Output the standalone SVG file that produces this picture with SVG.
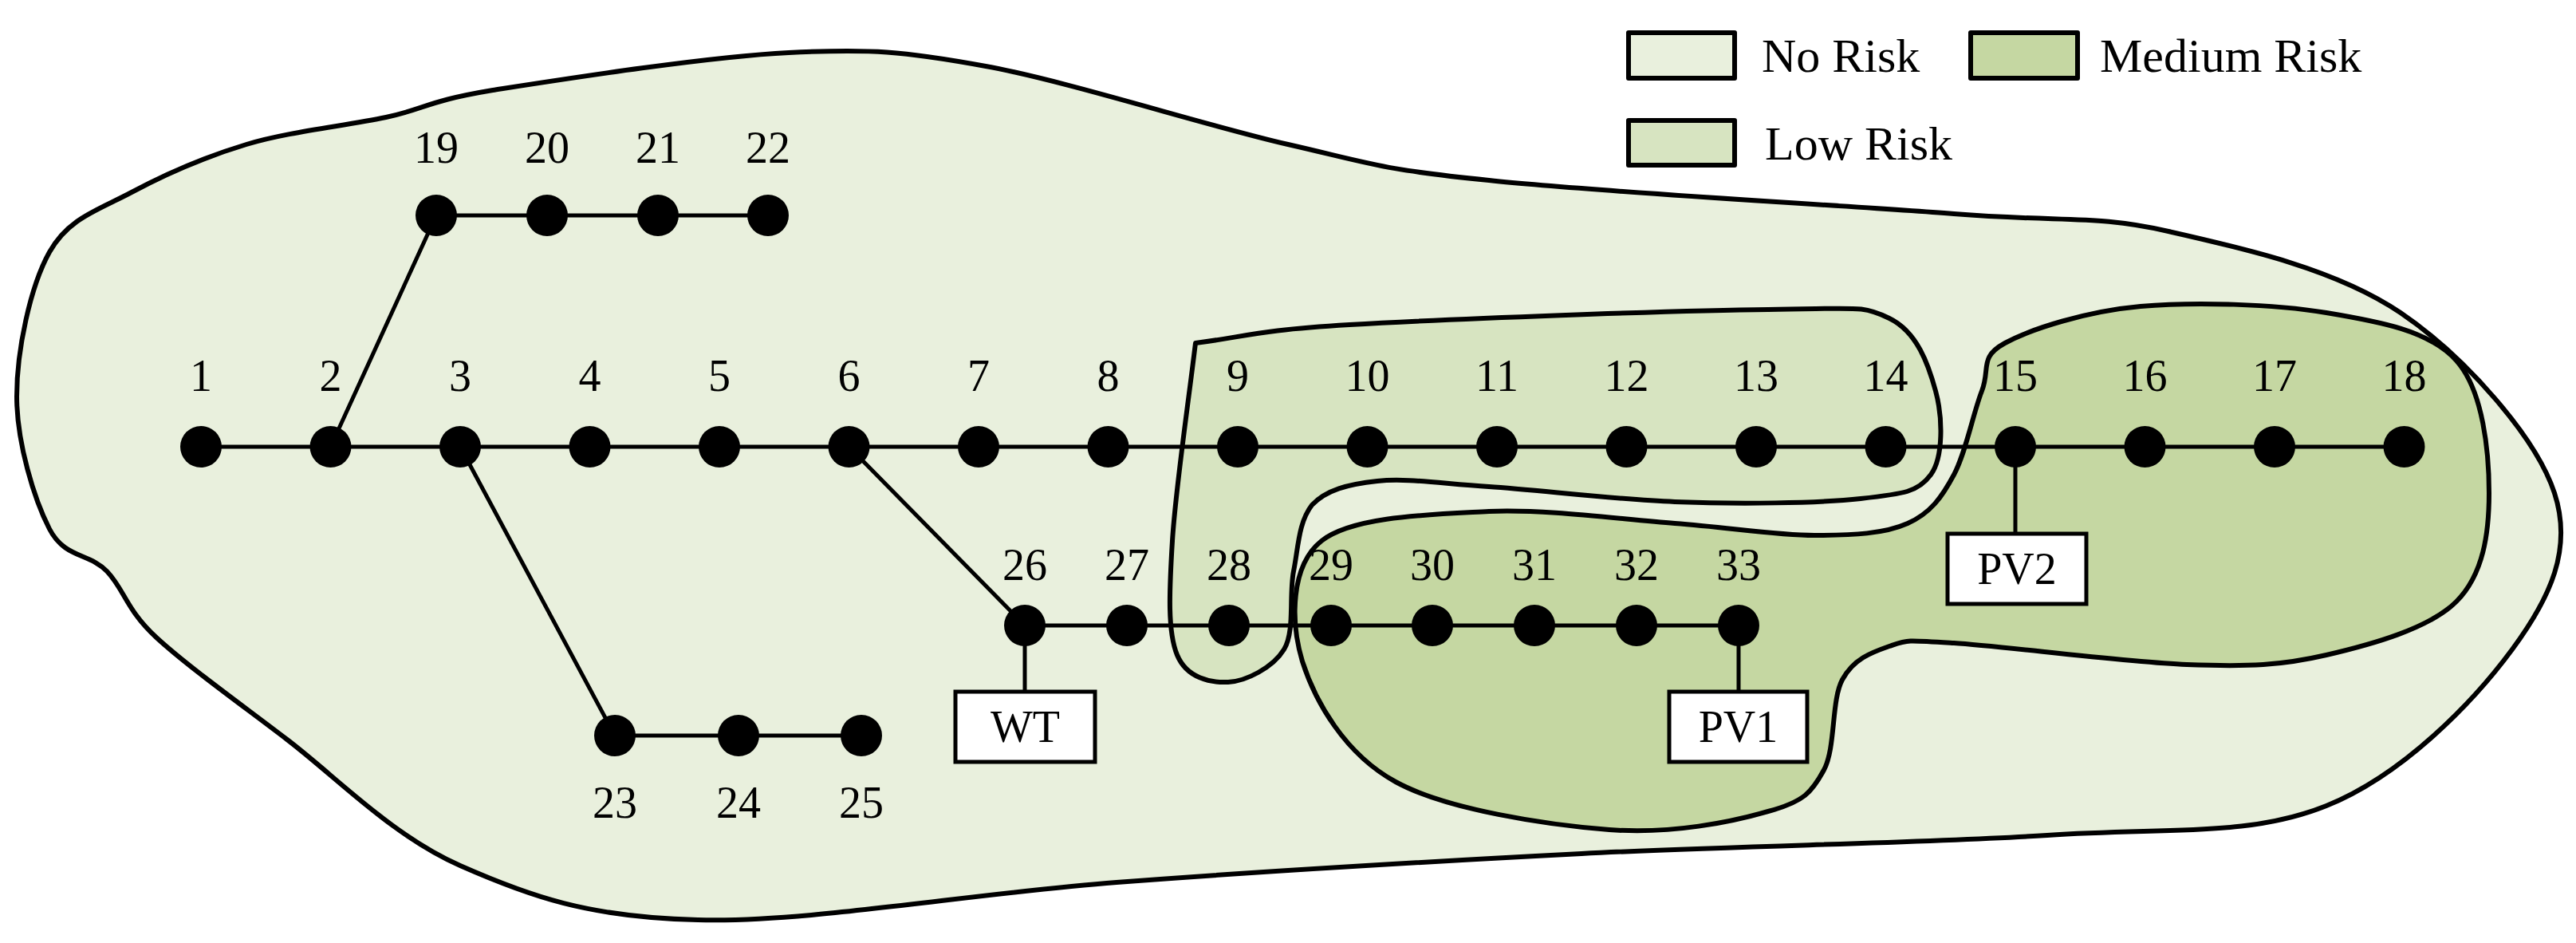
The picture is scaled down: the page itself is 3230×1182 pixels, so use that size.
<svg xmlns="http://www.w3.org/2000/svg" width="3230" height="1182" viewBox="0 0 3230 1182">
<style>
.reg{stroke:#000;stroke-width:6;stroke-linejoin:round}
.no{fill:#e9f0dd}.low{fill:#d7e4c1}.med{fill:#c5d7a2}
.ln{stroke:#000;stroke-width:5;fill:none}
.nd{fill:#000}
text{font-family:"Liberation Serif",serif;font-size:56px;fill:#000;text-anchor:middle}
.lg{font-size:60px;text-anchor:start}
.box{fill:#fff;stroke:#000;stroke-width:5}
</style>
<g id="regions">
<path class="reg no" d="M484,147 C535,136 534,127 618,113 C702,100 886,71 989,66 C1092,61 1132,64 1236,83 C1340,102 1510,157 1615,181 C1720,205 1728,212 1867,226 C2006,241 2308,257 2450,268 C2592,279 2626,269 2719,290 C2812,311 2929,337 3010,392 C3091,447 3180,548 3203,618 C3226,688 3198,749 3150,814 C3102,879 3014,971 2917,1010 C2820,1049 2723,1037 2567,1047 C2411,1057 2178,1060 1983,1070 C1789,1080 1585,1092 1400,1106 C1215,1120 1012,1157 875,1153 C738,1150 663,1123 577,1085 C491,1047 423,975 360,927 C297,879 234,834 196,799 C158,764 156,739 134,716 C112,693 81,700 62,663 C43,626 21,555 21,497 C21,439 38,359 62,316 C86,273 124,263 165,241 C206,219 256,197 309,181 C362,165 432,158 484,147 Z"/>
<path class="reg low" d="M1499,430 C1563,422 1573,414 1692,407 C1811,400 2104,389 2217,388 C2330,387 2334,382 2369,399 C2404,416 2418,457 2427,490 C2436,523 2437,573 2421,595 C2405,617 2387,619 2333,625 C2280,631 2178,632 2100,629 C2022,626 1929,614 1867,610 C1805,606 1764,599 1727,603 C1690,607 1663,614 1645,633 C1628,655 1628,686 1622,716 C1616,746 1624,791 1610,814 C1596,837 1562,854 1540,855 C1518,856 1488,850 1476,821 C1464,792 1466,743 1470,678 C1474,613 1489,513 1499,430 Z"/>
<path class="reg med" d="M2514,430 C2547,412 2617,390 2684,384 C2751,378 2851,381 2917,392 C2983,403 3046,414 3080,452 C3114,490 3121,568 3121,618 C3121,668 3114,720 3080,754 C3046,788 2973,808 2917,821 C2861,834 2820,836 2742,833 C2664,830 2512,810 2450,806 C2388,802 2392,802 2369,810 C2346,818 2324,826 2310,852 C2296,878 2302,937 2287,965 C2272,993 2262,1005 2217,1017 C2172,1030 2096,1046 2018,1040 C1940,1034 1814,1015 1750,980 C1686,945 1649,879 1633,829 C1618,779 1618,709 1657,678 C1696,647 1793,645 1867,641 C1941,638 2032,651 2100,656 C2168,661 2226,671 2275,671 C2324,671 2363,669 2392,656 C2421,643 2435,623 2450,595 C2465,567 2474,518 2485,490 C2496,462 2481,448 2514,430 Z"/>
</g>
<g id="legend">
<rect class="reg no" x="2042" y="41" width="133" height="57"/>
<text class="lg" x="2209" y="90">No Risk</text>
<rect class="reg med" x="2471" y="41" width="134" height="57"/>
<text class="lg" x="2633" y="90">Medium Risk</text>
<rect class="reg low" x="2042" y="151" width="133" height="56"/>
<text class="lg" x="2213" y="200">Low Risk</text>
</g>
<g id="connectors">
<path class="ln" d="M252,560 H3014.5 M414.5,560 L547,270 M547,270 H963 M577,560 L771,922 M771,922 H1080 M1064.5,560 L1285,784 M1285,784 H2180 M1285,784 V867 M2180,784 V867 M2527,560 V669"/>
</g>
<g id="nodes">
<circle class="nd" cx="252" cy="560" r="26"/><text x="252" y="490">1</text>
<circle class="nd" cx="414.5" cy="560" r="26"/><text x="414.5" y="490">2</text>
<circle class="nd" cx="577" cy="560" r="26"/><text x="577" y="490">3</text>
<circle class="nd" cx="739.5" cy="560" r="26"/><text x="739.5" y="490">4</text>
<circle class="nd" cx="902" cy="560" r="26"/><text x="902" y="490">5</text>
<circle class="nd" cx="1064.5" cy="560" r="26"/><text x="1064.5" y="490">6</text>
<circle class="nd" cx="1227" cy="560" r="26"/><text x="1227" y="490">7</text>
<circle class="nd" cx="1389.5" cy="560" r="26"/><text x="1389.5" y="490">8</text>
<circle class="nd" cx="1552" cy="560" r="26"/><text x="1552" y="490">9</text>
<circle class="nd" cx="1714.5" cy="560" r="26"/><text x="1714.5" y="490">10</text>
<circle class="nd" cx="1877" cy="560" r="26"/><text x="1877" y="490">11</text>
<circle class="nd" cx="2039.5" cy="560" r="26"/><text x="2039.5" y="490">12</text>
<circle class="nd" cx="2202" cy="560" r="26"/><text x="2202" y="490">13</text>
<circle class="nd" cx="2364.5" cy="560" r="26"/><text x="2364.5" y="490">14</text>
<circle class="nd" cx="2527" cy="560" r="26"/><text x="2527" y="490">15</text>
<circle class="nd" cx="2689.5" cy="560" r="26"/><text x="2689.5" y="490">16</text>
<circle class="nd" cx="2852" cy="560" r="26"/><text x="2852" y="490">17</text>
<circle class="nd" cx="3014.5" cy="560" r="26"/><text x="3014.5" y="490">18</text>
<circle class="nd" cx="547" cy="270" r="26"/><text x="547" y="204">19</text>
<circle class="nd" cx="686" cy="270" r="26"/><text x="686" y="204">20</text>
<circle class="nd" cx="825" cy="270" r="26"/><text x="825" y="204">21</text>
<circle class="nd" cx="963" cy="270" r="26"/><text x="963" y="204">22</text>
<circle class="nd" cx="771" cy="922" r="26"/><text x="771" y="1025">23</text>
<circle class="nd" cx="926" cy="922" r="26"/><text x="926" y="1025">24</text>
<circle class="nd" cx="1080" cy="922" r="26"/><text x="1080" y="1025">25</text>
<circle class="nd" cx="1285" cy="784" r="26"/><text x="1285" y="727">26</text>
<circle class="nd" cx="1413" cy="784" r="26"/><text x="1413" y="727">27</text>
<circle class="nd" cx="1541" cy="784" r="26"/><text x="1541" y="727">28</text>
<circle class="nd" cx="1669" cy="784" r="26"/><text x="1669" y="727">29</text>
<circle class="nd" cx="1796" cy="784" r="26"/><text x="1796" y="727">30</text>
<circle class="nd" cx="1924" cy="784" r="26"/><text x="1924" y="727">31</text>
<circle class="nd" cx="2052" cy="784" r="26"/><text x="2052" y="727">32</text>
<circle class="nd" cx="2180" cy="784" r="26"/><text x="2180" y="727">33</text>
</g>
<g id="WT"><rect class="box" x="1198" y="867" width="175" height="88"/><text x="1285.5" y="930">WT</text></g>
<g id="PV1"><rect class="box" x="2093" y="867" width="173" height="88"/><text x="2179.5" y="930">PV1</text></g>
<g id="PV2"><rect class="box" x="2442" y="669" width="174" height="88"/><text x="2529" y="732">PV2</text></g>
</svg>
